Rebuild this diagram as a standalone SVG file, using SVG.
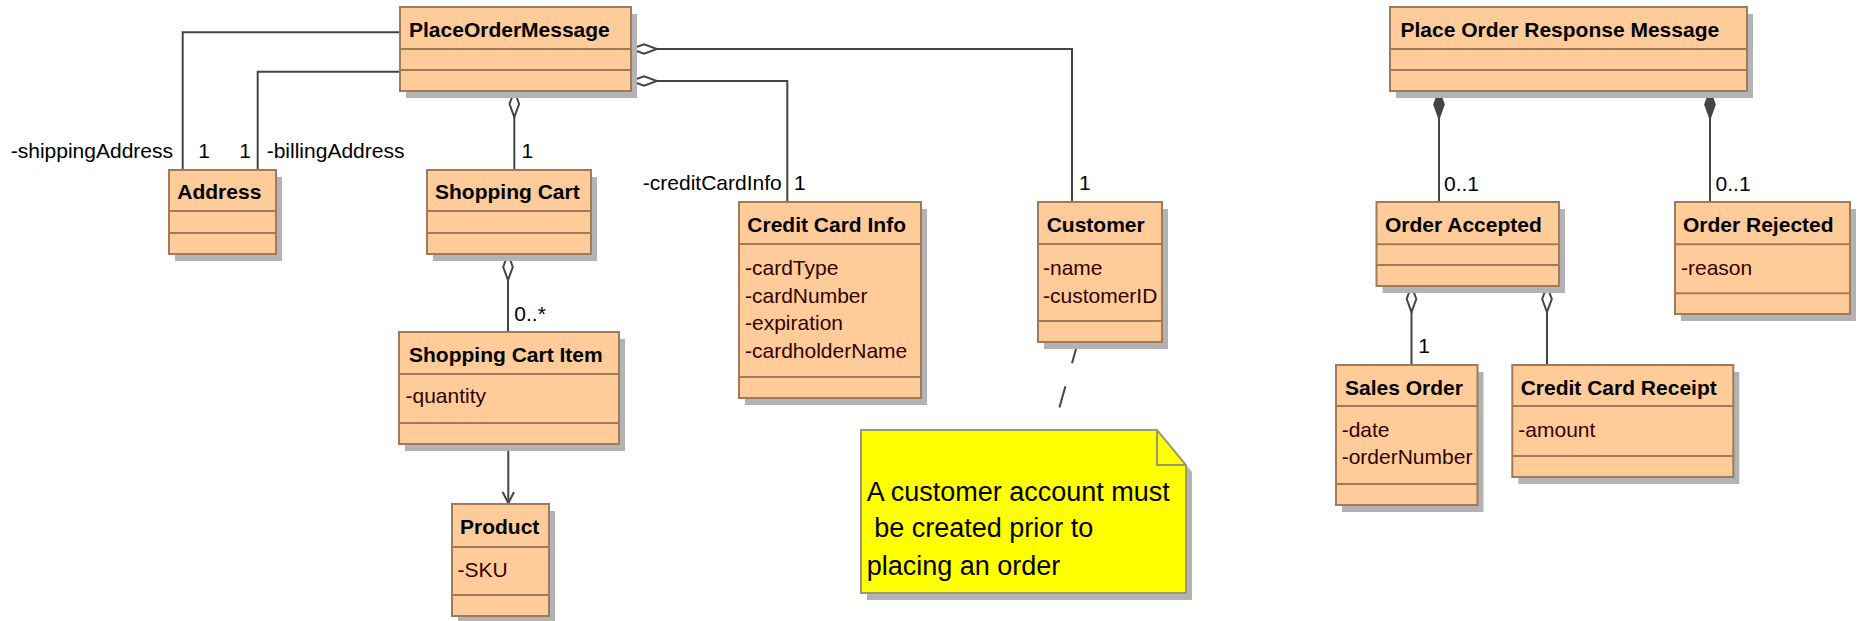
<svg xmlns="http://www.w3.org/2000/svg" width="1858" height="621" viewBox="0 0 1858 621">
<defs>
<style>
.box{fill:#FFCC99;stroke:#9E7B5B;stroke-width:2}
.sh{fill:#B3B3B3}
.dv{stroke:#9E7B5B;stroke-width:2}
.t{font-family:"Liberation Sans",Arial,sans-serif;font-size:21px}
.h{font-weight:bold;fill:#000}
.a{fill:#330000}
.l{fill:#000}
.c{fill:none;stroke:#454545;stroke-width:2}
.nt{font-family:"Liberation Sans",Arial,sans-serif;font-size:27px;fill:#000}
</style>
<marker id="odia" markerUnits="userSpaceOnUse" orient="auto" refX="0" refY="0" markerWidth="30" markerHeight="12" overflow="visible">
<path d="M0,0 L13,-4.8 L26,0 L13,4.8 Z" fill="#fff" stroke="#454545" stroke-width="2"/>
</marker>
<marker id="fdia" markerUnits="userSpaceOnUse" orient="auto" refX="0" refY="0" markerWidth="30" markerHeight="12" overflow="visible">
<path d="M0,0 L13.5,-4.8 L27,0 L13.5,4.8 Z" fill="#454545" stroke="#454545" stroke-width="2"/>
</marker>
<marker id="arr" markerUnits="userSpaceOnUse" orient="auto" refX="0" refY="0" markerWidth="14" markerHeight="14" overflow="visible">
<path d="M-11,-5.7 L0,0 L-11,5.7" fill="none" stroke="#454545" stroke-width="2"/>
</marker>
</defs>
<rect width="1858" height="621" fill="#fff"/>

<g id="connectors">
<path class="c" d="M400,32.3 H182.7 V170"/>
<path class="c" d="M400,71.7 H257.7 V170"/>
<path class="c" d="M514.3,91 V170" marker-start="url(#odia)"/>
<path class="c" d="M508,254 V332" marker-start="url(#odia)"/>
<path class="c" d="M508.3,444 V503" marker-end="url(#arr)"/>
<path class="c" d="M631,81 H787.3 V202" marker-start="url(#odia)"/>
<path class="c" d="M631,49 H1072 V202" marker-start="url(#odia)"/>
<path class="c" d="M1078,342 L1053,430" stroke-dasharray="22 24"/>
<path class="c" d="M1439,91 V202" marker-start="url(#fdia)"/>
<path class="c" d="M1710,91 V202" marker-start="url(#fdia)"/>
<path class="c" d="M1411.5,286 V365" marker-start="url(#odia)"/>
<path class="c" d="M1547,286 V365" marker-start="url(#odia)"/>
<g class="t l">
<text x="173" y="158.3" text-anchor="end">-shippingAddress</text>
<text x="198.3" y="158.3">1</text>
<text x="239.3" y="158.3">1</text>
<text x="266.7" y="158.3">-billingAddress</text>
<text x="521.4" y="158.3">1</text>
<text x="514.3" y="320.7">0..*</text>
<text x="781.7" y="190" text-anchor="end">-creditCardInfo</text>
<text x="794" y="190">1</text>
<text x="1079" y="190">1</text>
<text x="1444" y="190.7">0..1</text>
<text x="1715.6" y="190.7">0..1</text>
<text x="1418.3" y="353.3">1</text>
</g>
</g>

<g id="PlaceOrderMessage">
<rect class="sh" x="406" y="14" width="231" height="84"/>
<rect class="box" x="400" y="7" width="231" height="84"/>
<path class="dv" d="M400,49 H631 M400,70 H631"/>
<text class="t h" x="409" y="37">PlaceOrderMessage</text>
</g>

<g id="Address">
<rect class="sh" x="175" y="177" width="107" height="84"/>
<rect class="box" x="169" y="170" width="107" height="84"/>
<path class="dv" d="M169,211 H276 M169,233 H276"/>
<text class="t h" x="177.3" y="199.3">Address</text>
</g>

<g id="ShoppingCart">
<rect class="sh" x="433" y="177" width="164" height="84"/>
<rect class="box" x="427" y="170" width="164" height="84"/>
<path class="dv" d="M427,211 H591 M427,233 H591"/>
<text class="t h" x="435" y="199.3">Shopping Cart</text>
</g>

<g id="ShoppingCartItem">
<rect class="sh" x="405" y="339" width="220" height="112"/>
<rect class="box" x="399" y="332" width="220" height="112"/>
<path class="dv" d="M399,374 H619 M399,423 H619"/>
<text class="t h" x="409" y="362.3">Shopping Cart Item</text>
<text class="t a" x="405.5" y="403">-quantity</text>
</g>

<g id="Product">
<rect class="sh" x="458" y="511" width="97" height="112"/>
<rect class="box" x="452" y="504" width="97" height="112"/>
<path class="dv" d="M452,547 H549 M452,595 H549"/>
<text class="t h" x="460" y="534.3">Product</text>
<text class="t a" x="457.5" y="576.7">-SKU</text>
</g>

<g id="CreditCardInfo">
<rect class="sh" x="745" y="209" width="182" height="196"/>
<rect class="box" x="739" y="202" width="182" height="196"/>
<path class="dv" d="M739,244 H921 M739,377 H921"/>
<text class="t h" x="747.3" y="232.3">Credit Card Info</text>
<text class="t a" x="745" y="275">-cardType</text>
<text class="t a" x="745" y="302.7">-cardNumber</text>
<text class="t a" x="745" y="330.4">-expiration</text>
<text class="t a" x="745" y="358">-cardholderName</text>
</g>

<g id="Customer">
<rect class="sh" x="1044" y="209" width="124" height="140"/>
<rect class="box" x="1038" y="202" width="124" height="140"/>
<path class="dv" d="M1038,244 H1162 M1038,321 H1162"/>
<text class="t h" x="1046.7" y="232.3">Customer</text>
<text class="t a" x="1043" y="275">-name</text>
<text class="t a" x="1043" y="302.7">-customerID</text>
</g>

<g id="Note">
<path class="sh" d="M867,437 H1163 L1192,472 V600 H867 Z"/>
<path d="M861,430 H1157 L1186,465 V593 H861 Z" fill="#FFFF00" stroke="#9C9A6C" stroke-width="2"/>
<path d="M1157,430 V465 H1186" fill="none" stroke="#9C9A6C" stroke-width="2"/>
<text class="nt" x="866.7" y="500.7">A customer account must</text>
<text class="nt" x="866.7" y="537.3" xml:space="preserve"> be created prior to</text>
<text class="nt" x="866.7" y="575">placing an order</text>
</g>

<g id="PlaceOrderResponseMessage">
<rect class="sh" x="1396" y="14" width="357" height="84"/>
<rect class="box" x="1390" y="7" width="357" height="84"/>
<path class="dv" d="M1390,49 H1747 M1390,70 H1747"/>
<text class="t h" x="1400.5" y="37">Place Order Response Message</text>
</g>

<g id="OrderAccepted">
<rect class="sh" x="1382.5" y="209" width="182.5" height="84"/>
<rect class="box" x="1376.5" y="202" width="182.5" height="84"/>
<path class="dv" d="M1376.5,244.3 H1559 M1376.5,265 H1559"/>
<text class="t h" x="1385" y="232.3">Order Accepted</text>
</g>

<g id="OrderRejected">
<rect class="sh" x="1681" y="209" width="175" height="112"/>
<rect class="box" x="1675" y="202" width="175" height="112"/>
<path class="dv" d="M1675,244.3 H1850 M1675,293.3 H1850"/>
<text class="t h" x="1683" y="232.3">Order Rejected</text>
<text class="t a" x="1681" y="275">-reason</text>
</g>

<g id="SalesOrder">
<rect class="sh" x="1342" y="372" width="141.5" height="140"/>
<rect class="box" x="1336" y="365" width="141.5" height="140"/>
<path class="dv" d="M1336,406 H1477.5 M1336,484 H1477.5"/>
<text class="t h" x="1345" y="395">Sales Order</text>
<text class="t a" x="1341.7" y="436.7">-date</text>
<text class="t a" x="1341.7" y="464">-orderNumber</text>
</g>

<g id="CreditCardReceipt">
<rect class="sh" x="1518.3" y="372" width="221" height="112"/>
<rect class="box" x="1512.3" y="365" width="221" height="112"/>
<path class="dv" d="M1512.3,406 H1733.3 M1512.3,456 H1733.3"/>
<text class="t h" x="1520.7" y="395">Credit Card Receipt</text>
<text class="t a" x="1518.3" y="436.7">-amount</text>
</g>
</svg>
